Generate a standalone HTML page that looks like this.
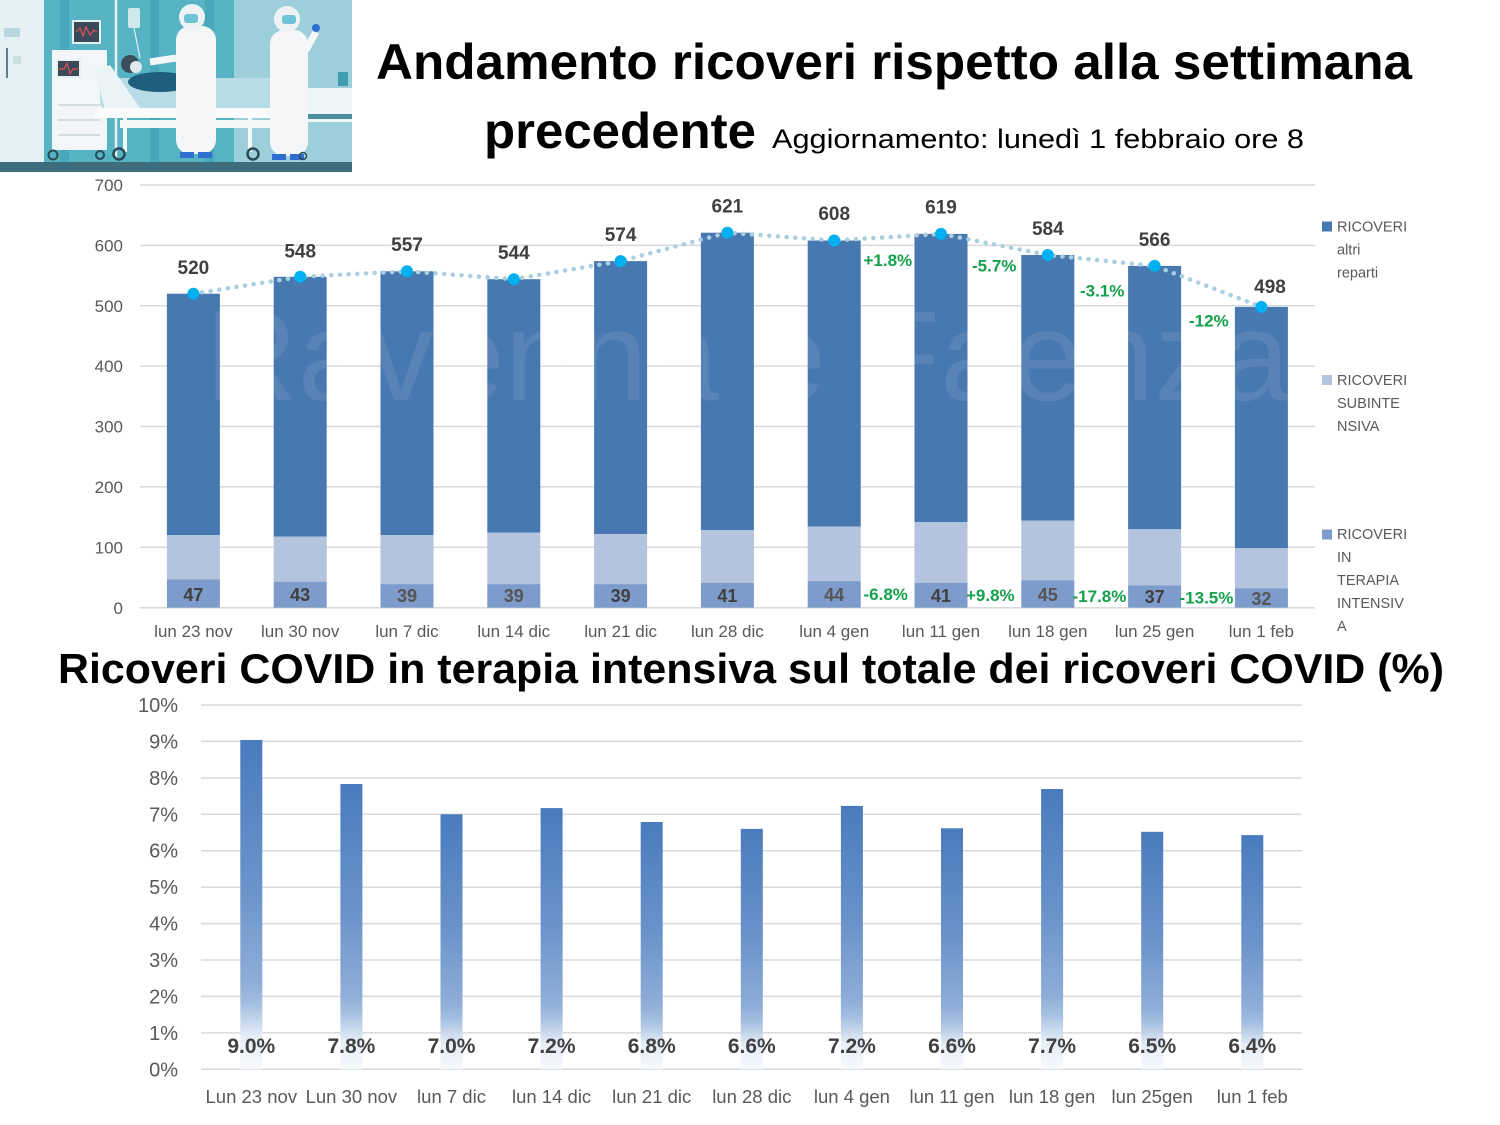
<!DOCTYPE html>
<html><head><meta charset="utf-8"><style>
html,body{margin:0;padding:0;background:#fff;}
svg{display:block;font-family:"Liberation Sans",Arial,sans-serif;}
</style></head><body>
<svg width="1500" height="1125" viewBox="0 0 1500 1125" xmlns="http://www.w3.org/2000/svg">
<defs>
<linearGradient id="bg" x1="0" y1="0" x2="0" y2="1">
<stop offset="0" stop-color="#4A7BBE"/>
<stop offset="0.45" stop-color="#6A93CA"/>
<stop offset="0.74" stop-color="#8FAED8"/>
<stop offset="0.8" stop-color="#A3BEE0"/>
<stop offset="0.9" stop-color="#E6EDF7"/>
<stop offset="1" stop-color="#F7F9FC"/>
</linearGradient>
</defs>
<rect width="1500" height="1125" fill="#fff"/>

<!-- Illustration -->
<g>
<rect x="0" y="0" width="352" height="172" fill="#86C6D2"/>
<rect x="0" y="0" width="44" height="162" fill="#E3F0F4"/>
<rect x="4" y="28" width="16" height="9" fill="#B8D4DC"/>
<line x1="7" y1="48" x2="7" y2="78" stroke="#5E7E8C" stroke-width="2"/>
<rect x="13" y="56" width="8" height="8" fill="#C9DDE3"/>
<rect x="44" y="0" width="190" height="162" fill="#55B3C3"/>
<rect x="60" y="0" width="9" height="162" fill="#48A7B8"/>
<rect x="150" y="0" width="9" height="162" fill="#48A7B8"/>
<rect x="205" y="0" width="9" height="162" fill="#48A7B8"/>
<rect x="234" y="0" width="118" height="162" fill="#9CCFDA"/>
<rect x="305" y="88" width="47" height="34" fill="#EEF5F7"/>
<rect x="308" y="114" width="44" height="5" fill="#4A8FA0"/>
<rect x="338" y="72" width="10" height="14" fill="#3E9DB0"/>
<!-- cart -->
<rect x="52" y="50" width="55" height="100" fill="#F3F6F8"/>
<line x1="58" y1="105" x2="100" y2="105" stroke="#C8D5DA" stroke-width="1.5"/>
<line x1="58" y1="120" x2="100" y2="120" stroke="#C8D5DA" stroke-width="1.5"/>
<line x1="58" y1="135" x2="100" y2="135" stroke="#C8D5DA" stroke-width="1.5"/>
<rect x="73" y="21" width="27" height="22" fill="#3A4A58" stroke="#E8F0F2" stroke-width="2"/>
<polyline points="76,32 80,28 83,36 86,27 90,35 94,30 97,32" fill="none" stroke="#E0505A" stroke-width="1.2"/>
<rect x="57" y="60" width="23" height="17" fill="#3A4A58" stroke="#E8F0F2" stroke-width="2"/>
<polyline points="59,69 64,69 67,63 70,74 73,69 78,69" fill="none" stroke="#E0505A" stroke-width="1.2"/>
<!-- IV pole -->
<line x1="116" y1="0" x2="116" y2="158" stroke="#E8F0F2" stroke-width="2.5"/>
<rect x="128" y="8" width="12" height="20" rx="2" fill="#CFE8EE"/>
<line x1="134" y1="28" x2="140" y2="58" stroke="#E8F0F2" stroke-width="1.2"/>
<!-- bed -->
<rect x="100" y="78" width="180" height="32" rx="8" fill="#B8DCE6"/>
<polygon points="95,70 110,65 140,108 105,110" fill="#EAF3F6"/>
<rect x="95" y="108" width="205" height="10" fill="#FAFCFC"/>
<rect x="120" y="120" width="170" height="8" fill="#F2F7F8"/>
<line x1="125" y1="118" x2="125" y2="152" stroke="#F5F8F9" stroke-width="4"/>
<line x1="250" y1="118" x2="250" y2="152" stroke="#F5F8F9" stroke-width="4"/>
<line x1="300" y1="85" x2="300" y2="152" stroke="#F5F8F9" stroke-width="4"/>
<!-- patient -->
<ellipse cx="160" cy="82" rx="32" ry="10" fill="#1E5E7C"/>
<circle cx="130" cy="64" r="9" fill="#3C4E5C"/>
<circle cx="136" cy="67" r="6" fill="#DDE9EE"/>
<!-- doctor 1 -->
<rect x="176" y="26" width="40" height="128" rx="14" fill="#F4F6F7"/>
<circle cx="192" cy="17" r="13" fill="#EEF2F4"/>
<rect x="184" y="14" width="14" height="9" rx="3" fill="#6FC3D6"/>
<line x1="176" y1="58" x2="150" y2="62" stroke="#F4F6F7" stroke-width="7"/>
<rect x="180" y="152" width="14" height="6" fill="#2F6FD0"/>
<rect x="198" y="152" width="14" height="6" fill="#2F6FD0"/>
<!-- doctor 2 -->
<rect x="270" y="30" width="38" height="126" rx="14" fill="#F4F6F7"/>
<circle cx="287" cy="19" r="13" fill="#EEF2F4"/>
<rect x="282" y="15" width="14" height="9" rx="3" fill="#6FC3D6"/>
<line x1="306" y1="50" x2="316" y2="32" stroke="#F4F6F7" stroke-width="7"/>
<circle cx="316" cy="28" r="4" fill="#2F6FD0"/>
<rect x="272" y="154" width="14" height="6" fill="#2F6FD0"/>
<rect x="290" y="154" width="14" height="6" fill="#2F6FD0"/>
<!-- wheels -->
<circle cx="53" cy="155" r="4.5" fill="none" stroke="#2A4A58" stroke-width="2"/>
<circle cx="100" cy="155" r="4" fill="none" stroke="#2A4A58" stroke-width="2"/>
<circle cx="119" cy="154" r="5.5" fill="none" stroke="#2A4A58" stroke-width="2.5"/>
<circle cx="253" cy="154" r="5.5" fill="none" stroke="#2A4A58" stroke-width="2.5"/>
<circle cx="303" cy="156" r="3.5" fill="none" stroke="#2A4A58" stroke-width="1.5"/>
<rect x="0" y="162" width="352" height="10" fill="#3D6D7D"/>
</g>

<!-- Titles -->
<text x="376" y="79" font-size="50" font-weight="bold" fill="#000" textLength="1036" lengthAdjust="spacingAndGlyphs">Andamento ricoveri rispetto alla settimana</text>
<text x="484" y="148" font-size="50" font-weight="bold" fill="#000" textLength="272" lengthAdjust="spacingAndGlyphs">precedente</text>
<text x="772" y="148" font-size="27" fill="#000" textLength="532" lengthAdjust="spacingAndGlyphs">Aggiornamento: lunedì 1 febbraio ore 8</text>

<!-- Top chart gridlines -->
<g stroke="#D9D9D9" stroke-width="1.5">
<line x1="140" y1="185" x2="1315" y2="185"/>
<line x1="140" y1="245.4" x2="1315" y2="245.4"/>
<line x1="140" y1="305.8" x2="1315" y2="305.8"/>
<line x1="140" y1="366.1" x2="1315" y2="366.1"/>
<line x1="140" y1="426.5" x2="1315" y2="426.5"/>
<line x1="140" y1="486.9" x2="1315" y2="486.9"/>
<line x1="140" y1="547.3" x2="1315" y2="547.3"/>
<line x1="140" y1="607.7" x2="1315" y2="607.7"/>
</g>
<g font-size="17" fill="#595959" text-anchor="end">
<text x="123" y="191">700</text>
<text x="123" y="251.5">600</text>
<text x="123" y="312">500</text>
<text x="123" y="372">400</text>
<text x="123" y="432.5">300</text>
<text x="123" y="493">200</text>
<text x="123" y="553.5">100</text>
<text x="123" y="614">0</text>
</g>

<!-- Bars: main / sub / TI -->
<g>
<rect x="166.9" y="293.7" width="53" height="241.3" fill="#4878B0"/><rect x="166.9" y="535" width="53" height="44.3" fill="#B4C3DE"/><rect x="166.9" y="579.3" width="53" height="28.4" fill="#7D9BCB"/>
<rect x="273.7" y="276.8" width="53" height="259.9" fill="#4878B0"/><rect x="273.7" y="536.7" width="53" height="45" fill="#B4C3DE"/><rect x="273.7" y="581.7" width="53" height="26" fill="#7D9BCB"/>
<rect x="380.5" y="271.3" width="53" height="263.7" fill="#4878B0"/><rect x="380.5" y="535" width="53" height="49.1" fill="#B4C3DE"/><rect x="380.5" y="584.1" width="53" height="23.6" fill="#7D9BCB"/>
<rect x="487.3" y="279.2" width="53" height="253.5" fill="#4878B0"/><rect x="487.3" y="532.7" width="53" height="51.4" fill="#B4C3DE"/><rect x="487.3" y="584.1" width="53" height="23.6" fill="#7D9BCB"/>
<rect x="594.1" y="261.1" width="53" height="272.9" fill="#4878B0"/><rect x="594.1" y="534" width="53" height="50.1" fill="#B4C3DE"/><rect x="594.1" y="584.1" width="53" height="23.6" fill="#7D9BCB"/>
<rect x="700.9" y="232.7" width="53" height="297.3" fill="#4878B0"/><rect x="700.9" y="530" width="53" height="52.9" fill="#B4C3DE"/><rect x="700.9" y="582.9" width="53" height="24.8" fill="#7D9BCB"/>
<rect x="807.7" y="240.5" width="53" height="286.2" fill="#4878B0"/><rect x="807.7" y="526.7" width="53" height="54.4" fill="#B4C3DE"/><rect x="807.7" y="581.1" width="53" height="26.6" fill="#7D9BCB"/>
<rect x="914.5" y="233.9" width="53" height="288.1" fill="#4878B0"/><rect x="914.5" y="522" width="53" height="60.9" fill="#B4C3DE"/><rect x="914.5" y="582.9" width="53" height="24.8" fill="#7D9BCB"/>
<rect x="1021.3" y="255" width="53" height="265.7" fill="#4878B0"/><rect x="1021.3" y="520.7" width="53" height="59.8" fill="#B4C3DE"/><rect x="1021.3" y="580.5" width="53" height="27.2" fill="#7D9BCB"/>
<rect x="1128.1" y="265.9" width="53" height="263.4" fill="#4878B0"/><rect x="1128.1" y="529.3" width="53" height="56.1" fill="#B4C3DE"/><rect x="1128.1" y="585.4" width="53" height="22.3" fill="#7D9BCB"/>
<rect x="1234.9" y="306.9" width="53" height="241.4" fill="#4878B0"/><rect x="1234.9" y="548.3" width="53" height="40.1" fill="#B4C3DE"/><rect x="1234.9" y="588.4" width="53" height="19.3" fill="#7D9BCB"/>
</g>
<!-- watermark -->
<text x="205" y="400" font-size="128" fill="#fff" opacity="0.08" textLength="1085" lengthAdjust="spacingAndGlyphs">Ravenna e Faenza</text>

<!-- dotted total line -->
<polyline points="193.4,293.7 300.2,276.8 407,271.3 513.8,279.2 620.6,261.1 727.4,232.7 834.2,240.5 941,233.9 1047.8,255 1154.6,265.9 1261.4,306.9" fill="none" stroke="#A9CFE0" stroke-width="4.5" stroke-linecap="round" stroke-dasharray="0.1 8.6"/>
<g fill="#00B0F0">
<circle cx="193.4" cy="293.7" r="6"/><circle cx="300.2" cy="276.8" r="6"/><circle cx="407" cy="271.3" r="6"/><circle cx="513.8" cy="279.2" r="6"/><circle cx="620.6" cy="261.1" r="6"/><circle cx="727.4" cy="232.7" r="6"/><circle cx="834.2" cy="240.5" r="6"/><circle cx="941" cy="233.9" r="6"/><circle cx="1047.8" cy="255" r="6"/><circle cx="1154.6" cy="265.9" r="6"/><circle cx="1261.4" cy="306.9" r="6"/>
</g>
<!-- total labels -->
<g font-size="19" font-weight="bold" fill="#404040" text-anchor="middle">
<text x="193.4" y="274">520</text>
<text x="300.2" y="257.3">548</text>
<text x="407" y="251">557</text>
<text x="513.8" y="259">544</text>
<text x="620.6" y="241">574</text>
<text x="727.4" y="212.3">621</text>
<text x="834.2" y="220">608</text>
<text x="941" y="213.3">619</text>
<text x="1047.8" y="235">584</text>
<text x="1154.6" y="246">566</text>
<text x="1270" y="293">498</text>
</g>
<!-- TI labels -->
<g font-size="18" font-weight="bold" fill="#404040" text-anchor="middle">
<text x="193.4" y="601">47</text>
<text x="300.2" y="601">43</text>
<text x="407" y="602" fill="#555">39</text>
<text x="513.8" y="602" fill="#555">39</text>
<text x="620.6" y="602">39</text>
<text x="727.4" y="602">41</text>
<text x="834.2" y="601" fill="#555">44</text>
<text x="941" y="602">41</text>
<text x="1047.8" y="601" fill="#555">45</text>
<text x="1154.6" y="603">37</text>
<text x="1261.4" y="605" fill="#555">32</text>
</g>
<!-- green % -->
<g font-size="17" font-weight="bold" fill="#14A04C">
<text x="863.5" y="266">+1.8%</text>
<text x="972" y="271.7">-5.7%</text>
<text x="1080" y="296.7">-3.1%</text>
<text x="1189" y="326.7">-12%</text>
<text x="863.5" y="600">-6.8%</text>
<text x="966" y="601">+9.8%</text>
<text x="1072.5" y="602">-17.8%</text>
<text x="1179.5" y="603.5">-13.5%</text>
</g>
<!-- x labels -->
<g font-size="17" fill="#595959" text-anchor="middle">
<text x="193.4" y="637">lun 23 nov</text>
<text x="300.2" y="637">lun 30 nov</text>
<text x="407" y="637">lun 7 dic</text>
<text x="513.8" y="637">lun 14 dic</text>
<text x="620.6" y="637">lun 21 dic</text>
<text x="727.4" y="637">lun 28 dic</text>
<text x="834.2" y="637">lun 4 gen</text>
<text x="941" y="637">lun 11 gen</text>
<text x="1047.8" y="637">lun 18 gen</text>
<text x="1154.6" y="637">lun 25 gen</text>
<text x="1261.4" y="637">lun 1 feb</text>
</g>
<!-- legend -->
<rect x="1322" y="221.5" width="10" height="10" fill="#4878B0"/>
<rect x="1322" y="375" width="10" height="10" fill="#B4C3DE"/>
<rect x="1322" y="529.5" width="10" height="10" fill="#7D9BCB"/>
<g font-size="14.5" fill="#595959">
<text x="1337" y="231.7">RICOVERI</text>
<text x="1337" y="254.5">altri</text>
<text x="1337" y="277.5">reparti</text>
<text x="1337" y="385">RICOVERI</text>
<text x="1337" y="408">SUBINTE</text>
<text x="1337" y="431">NSIVA</text>
<text x="1337" y="539">RICOVERI</text>
<text x="1337" y="562">IN</text>
<text x="1337" y="585">TERAPIA</text>
<text x="1337" y="608">INTENSIV</text>
<text x="1337" y="631">A</text>
</g>

<!-- Second title -->
<text x="58" y="683" font-size="42" font-weight="bold" fill="#000" textLength="1386" lengthAdjust="spacingAndGlyphs">Ricoveri COVID in terapia intensiva sul totale dei ricoveri COVID (%)</text>

<!-- Bottom chart grid -->
<g stroke="#D9D9D9" stroke-width="1.5">
<line x1="201" y1="705" x2="1302" y2="705"/>
<line x1="201" y1="741.4" x2="1302" y2="741.4"/>
<line x1="201" y1="777.9" x2="1302" y2="777.9"/>
<line x1="201" y1="814.3" x2="1302" y2="814.3"/>
<line x1="201" y1="850.7" x2="1302" y2="850.7"/>
<line x1="201" y1="887.2" x2="1302" y2="887.2"/>
<line x1="201" y1="923.6" x2="1302" y2="923.6"/>
<line x1="201" y1="960" x2="1302" y2="960"/>
<line x1="201" y1="996.4" x2="1302" y2="996.4"/>
<line x1="201" y1="1032.9" x2="1302" y2="1032.9"/>
<line x1="201" y1="1069.3" x2="1302" y2="1069.3"/>
</g>
<g font-size="20" fill="#595959" text-anchor="end">
<text x="178" y="712">10%</text>
<text x="178" y="748.5">9%</text>
<text x="178" y="785">8%</text>
<text x="178" y="821.3">7%</text>
<text x="178" y="857.7">6%</text>
<text x="178" y="894.2">5%</text>
<text x="178" y="930.6">4%</text>
<text x="178" y="967">3%</text>
<text x="178" y="1003.4">2%</text>
<text x="178" y="1039.9">1%</text>
<text x="178" y="1076.3">0%</text>
</g>
<g fill="url(#bg)">
<rect x="240.3" y="740" width="22" height="329.3"/>
<rect x="340.4" y="784" width="22" height="285.3"/>
<rect x="440.5" y="814.3" width="22" height="255"/>
<rect x="540.6" y="808.1" width="22" height="261.2"/>
<rect x="640.7" y="822" width="22" height="247.3"/>
<rect x="740.8" y="828.9" width="22" height="240.4"/>
<rect x="840.9" y="805.9" width="22" height="263.4"/>
<rect x="941" y="828.3" width="22" height="241"/>
<rect x="1041.1" y="789" width="22" height="280.3"/>
<rect x="1141.2" y="831.8" width="22" height="237.5"/>
<rect x="1241.3" y="835.1" width="22" height="234.2"/>
</g>
<g font-size="21" font-weight="bold" fill="#404040" text-anchor="middle">
<text x="251.3" y="1053">9.0%</text>
<text x="351.4" y="1053">7.8%</text>
<text x="451.5" y="1053">7.0%</text>
<text x="551.6" y="1053">7.2%</text>
<text x="651.7" y="1053">6.8%</text>
<text x="751.8" y="1053">6.6%</text>
<text x="851.9" y="1053">7.2%</text>
<text x="952" y="1053">6.6%</text>
<text x="1052.1" y="1053">7.7%</text>
<text x="1152.2" y="1053">6.5%</text>
<text x="1252.3" y="1053">6.4%</text>
</g>
<g font-size="18.5" fill="#595959" text-anchor="middle">
<text x="251.3" y="1103">Lun 23 nov</text>
<text x="351.4" y="1103">Lun 30 nov</text>
<text x="451.5" y="1103">lun 7 dic</text>
<text x="551.6" y="1103">lun 14 dic</text>
<text x="651.7" y="1103">lun 21 dic</text>
<text x="751.8" y="1103">lun 28 dic</text>
<text x="851.9" y="1103">lun 4 gen</text>
<text x="952" y="1103">lun 11 gen</text>
<text x="1052.1" y="1103">lun 18 gen</text>
<text x="1152.2" y="1103">lun 25gen</text>
<text x="1252.3" y="1103">lun 1 feb</text>
</g>
</svg>
</body></html>
